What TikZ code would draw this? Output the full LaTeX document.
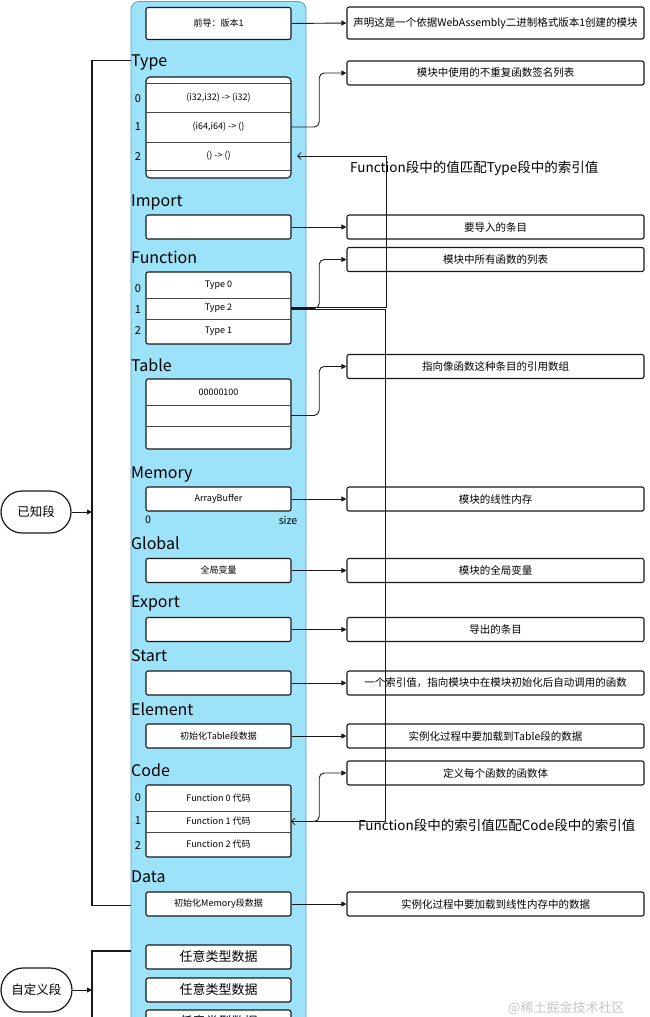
\documentclass[tikz,border=0pt]{standalone}
\usepackage{fontspec}
\setmainfont{Noto Sans CJK SC}
\usetikzlibrary{arrows.meta,calc}
\definecolor{panelblue}{RGB}{156,226,248}
\definecolor{paneledge}{RGB}{86,160,196}
\definecolor{ink}{RGB}{25,25,25}
\begin{document}
\begin{tikzpicture}[x=1pt,y=-1pt,
 sbox/.style={draw=ink,line width=1.1pt,rounded corners=2pt,fill=white,minimum width=145pt,minimum height=24pt,inner sep=0pt,font=\fontsize{9}{11}\selectfont},
 rbox/.style={draw=ink,line width=1.1pt,rounded corners=2pt,fill=white,minimum width=297pt,minimum height=24pt,inner sep=0pt,font=\fontsize{10.5}{12}\selectfont},
 row/.style={minimum width=145pt,inner sep=0pt,font=\fontsize{9}{11}\selectfont},
 sec/.style={anchor=base west,inner sep=0pt,font=\fontsize{16}{18}\selectfont},
 idx/.style={inner sep=0pt,font=\fontsize{11}{12}\selectfont},
 conn/.style={draw=ink,line width=0.9pt,-{Triangle[length=5pt,width=5pt]}},
 curve/.style={conn,rounded corners=5pt},
 link/.style={draw=ink,line width=0.7pt,-{Straight Barb[length=3.5pt,width=7pt]}},
 frame/.style={draw=ink,line width=1.1pt,rounded corners=4pt,fill=white},
 divider/.style={draw=ink!80,line width=0.7pt},
 brace/.style={draw=ink,line width=1.2pt},
 stadium/.style={draw=ink,line width=1.2pt,fill=white,minimum width=70pt,minimum height=42pt,rounded corners=21pt,inner sep=0pt,font=\fontsize{12.5}{14}\selectfont},
 note/.style={anchor=west,inner sep=0pt,font=\fontsize{13.5}{15}\selectfont},
 big/.style={font=\fontsize{13}{15}\selectfont}
]
\useasboundingbox (0,0) rectangle (650,1017);
% panel
\path[fill=panelblue,draw=paneledge,line width=0.8pt,rounded corners=8pt] (131,1.5) rectangle (306,1060);

% brackets
\draw[brace] (131,60.5) -- (92,60.5) -- (92,905.5) -- (131,905.5);
\draw[brace] (131,951) -- (92,951) -- (92,1040);
\coordinate (kx) at (92,0);
\node[stadium] (known) at (36,512) {已知段};
\node[stadium,minimum width=71pt,minimum height=44pt,rounded corners=22pt] (custom) at (36.5,990) {自定义段};
\draw[conn] (known.east) -- (known.east -| kx);
\draw[conn] (custom.east) -- (custom.east -| kx);

% preamble
\node[sbox,minimum height=32pt] (pre) at (218.5,23.5) {前导：版本1};
\node[rbox,minimum height=32pt] (predesc) at (495.5,23) {声明这是一个依据WebAssembly二进制格式版本1创建的模块};
\draw[conn] (pre.east) -- (predesc.west);

% Type
\node[sec] (lType) at (131,66) {Type};
\draw[frame] (146,77) rectangle (291,178);
\node[row,minimum height=29pt] (trow0) at (218.5,97.5) {(i32,i32) -> (i32)};
\node[row,minimum height=30pt] (trow1) at (218.5,127) {(i64,i64) -> ()};
\node[row,minimum height=28pt] (trow2) at (218.5,156) {() -> ()};
\draw[divider] (146,83) -- (291,83);
\draw[divider] (146,112) -- (291,112);
\draw[divider] (146,142) -- (291,142);
\draw[divider] (146,170) -- (291,170);
\node[idx] at (138,99) {0};
\node[idx] at (138,127) {1};
\node[idx] at (138,157) {2};
\node[rbox] (typedesc) at (495.5,73) {模块中使用的不重复函数签名列表};
\draw[curve] (trow1.east) -- ++(28,0) |- (typedesc.west);
\node[note] at (350,168) {Function段中的值匹配Type段中的索引值};

% Import
\node[sec] (lImport) at (131,206) {Import};
\node[sbox] (imp) at (218.5,227) {};
\node[rbox] (impdesc) at (495.5,227) {要导入的条目};
\draw[conn] (imp.east) -- (impdesc.west);

% Function
\node[sec] (lFunction) at (131,263) {Function};
\draw[frame,rounded corners=2pt] (146,272) rectangle (291,344);
\node[row,minimum height=26pt] (frow0) at (218.5,285) {Type 0};
\node[row,minimum height=21pt] (frow1) at (218.5,308.5) {Type 2};
\node[row,minimum height=25pt] (frow2) at (218.5,331.5) {Type 1};
\draw[divider] (146,298) -- (291,298);
\draw[divider] (146,319) -- (291,319);
\node[idx] at (138,289) {0};
\node[idx] at (138,310) {1};
\node[idx] at (138,331) {2};
\node[rbox] (funcdesc) at (495.5,259.5) {模块中所有函数的列表};
\draw[curve] (frow1.east) -- ++(28,0) |- (funcdesc.west);

% Table
\node[sec] (lTable) at (131,371) {Table};
\draw[frame,rounded corners=2pt] (146,379) rectangle (291,449);
\node[row,minimum height=26pt] (tabrow0) at (218.5,392) {00000100};
\node[row,minimum height=21pt] (tabrow1) at (218.5,415.5) {};
\node[row,minimum height=23pt] (tabrow2) at (218.5,437.5) {};
\draw[divider] (146,405) -- (291,405);
\draw[divider] (146,426) -- (291,426);
\node[rbox] (tabdesc) at (495.5,366.5) {指向像函数这种条目的引用数组};
\draw[curve] (tabrow1.east) -- ++(28,0) |- (tabdesc.west);

% Memory
\node[sec] (lMemory) at (131,478) {Memory};
\node[sbox] (mem) at (218.5,499) {ArrayBuffer};
\node[idx,font=\fontsize{10.5}{12}\selectfont] at (148,520) {0};
\node[idx,font=\fontsize{10.5}{12}\selectfont] at (288,520) {size};
\node[rbox] (memdesc) at (495.5,499) {模块的线性内存};
\draw[conn] (mem.east) -- (memdesc.west);

% Global
\node[sec] (lGlobal) at (131,549) {Global};
\node[sbox] (glob) at (218.5,570.5) {全局变量};
\node[rbox] (globdesc) at (495.5,570.5) {模块的全局变量};
\draw[conn] (glob.east) -- (globdesc.west);

% Export
\node[sec] (lExport) at (131,607.5) {Export};
\node[sbox] (exp) at (218.5,629.5) {};
\node[rbox] (expdesc) at (495.5,629.5) {导出的条目};
\draw[conn] (exp.east) -- (expdesc.west);

% Start
\node[sec] (lStart) at (131,661) {Start};
\node[sbox] (start) at (218.5,683) {};
\node[rbox] (startdesc) at (495.5,683) {一个索引值，指向模块中在模块初始化后自动调用的函数};
\draw[conn] (start.east) -- (startdesc.west);

% Element
\node[sec] (lElement) at (131,715) {Element};
\node[sbox] (elem) at (218.5,736) {初始化Table段数据};
\node[rbox] (elemdesc) at (495.5,736) {实例化过程中要加载到Table段的数据};
\draw[conn] (elem.east) -- (elemdesc.west);

% Code
\node[sec] (lCode) at (131,776) {Code};
\draw[frame,rounded corners=2pt] (146,785) rectangle (291,857);
\node[row,minimum height=26pt] (crow0) at (218.5,798) {Function 0 代码};
\node[row,minimum height=21pt] (crow1) at (218.5,821.5) {Function 1 代码};
\node[row,minimum height=25pt] (crow2) at (218.5,844.5) {Function 2 代码};
\draw[divider] (146,811) -- (291,811);
\draw[divider] (146,832) -- (291,832);
\node[idx] at (138,798) {0};
\node[idx] at (138,821) {1};
\node[idx] at (138,845) {2};
\node[rbox] (codedesc) at (495.5,773) {定义每个函数的函数体};
\draw[curve] (crow1.east) -- ++(28,0) |- (codedesc.west);
\node[note] at (358,825) {Function段中的索引值匹配Code段中的索引值};

% Data
\node[sec] (lData) at (131,882) {Data};
\node[sbox] (data) at (218.5,904) {初始化Memory段数据};
\node[rbox] (datadesc) at (495.5,904) {实例化过程中要加载到线性内存中的数据};
\draw[conn] (data.east) -- (datadesc.west);

% index links
\coordinate (acol) at (386,0);
\coordinate (bcol) at (385,0);
\coordinate (fa) at ([yshift=1pt]frow1.east);
\coordinate (fb) at ([yshift=-1pt]frow1.east);
\draw[link,shorten >=6pt] (fa) -- (fa -| acol) |- (trow2.east);
\draw[link] (fb) -- (fb -| bcol) |- (crow1.east);

% custom sections
\node[sbox,big] (any1) at (218.5,957) {任意类型数据};
\node[sbox,big] (any2) at (218.5,990) {任意类型数据};
\node[sbox,big] (any3) at (218.5,1022) {任意类型数据};

% watermark
\node[anchor=west,inner sep=0pt,text=gray!45,font=\fontsize{13}{15}\selectfont] (wm) at (508,1008) {@稀土掘金技术社区};
\end{tikzpicture}
\end{document}
